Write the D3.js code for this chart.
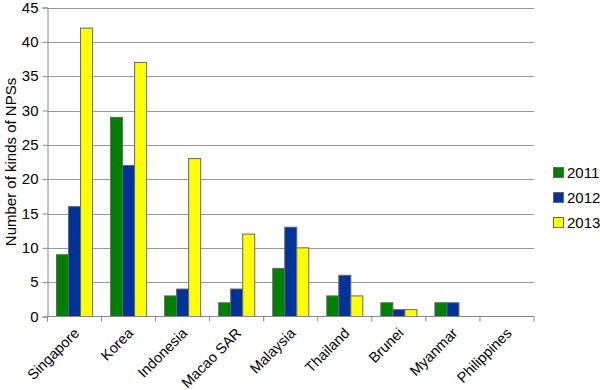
<!DOCTYPE html>
<meta charset="utf-8">
<script src="https://d3js.org/d3.v7.min.js"></script>
<style>
  body { margin: 0; background: #fff; }
  text { font-family: "Liberation Sans", Arial, sans-serif; fill: #000; }
</style>
<svg id="chart" width="600" height="390"></svg>
<script>

// data
var countries = ["Singapore", "Korea", "Indonesia", "Macao SAR", "Malaysia", "Thailand", "Brunei", "Myanmar", "Philippines"];
var years = ["2011", "2012", "2013"];
var v2011 = [9, 29, 3, 2, 7, 3, 2, 2, 0];
var v2012 = [16, 22, 4, 4, 13, 6, 1, 2, 0];
var v2013 = [42, 37, 23, 12, 10, 3, 1, 0, 0];
var yTicks = [0, 5, 10, 15, 20, 25, 30, 35, 40, 45];
var colors = ["#008000", "#003399", "#ffff00"];

var series = [v2011, v2012, v2013];

var svg = d3.select("#chart");
var plotLeft = 47.5, plotRight = 534, plotTop = 7.5, plotBottom = 316.5;

var x = d3.scaleBand().domain(countries).range([plotLeft, plotRight]);
var xInner = d3.scaleBand().domain(years).range([0, x.bandwidth()]).paddingOuter(0.75);
var y = d3.scaleLinear().domain([0, 45]).range([plotBottom, plotTop]);

// gridlines
svg.append("g")
  .selectAll("line")
  .data(yTicks.slice(1))
  .enter().append("line")
    .attr("x1", plotLeft).attr("x2", plotRight)
    .attr("y1", function(d){ return Math.round(y(d)) + 0.5 })
    .attr("y2", function(d){ return Math.round(y(d)) + 0.5 })
    .attr("stroke", "#999").attr("stroke-width", 1);

// bars
var groups = svg.append("g")
  .selectAll("g")
  .data(countries)
  .enter().append("g")
    .attr("transform", function(d){ return "translate(" + x(d) + ",0)" });

groups.selectAll("rect")
  .data(function(d, i){ return years.map(function(yr, j){ return { year: yr, value: series[j][i], j: j } }).filter(function(d){ return d.value > 0 }) })
  .enter().append("rect")
    .attr("x", function(d){ return xInner(d.year) })
    .attr("width", xInner.bandwidth())
    .attr("y", function(d){ return y(d.value) })
    .attr("height", function(d){ return plotBottom - y(d.value) })
    .attr("fill", function(d){ return colors[d.j] })
    .attr("stroke", "#666").attr("stroke-width", 1);

// y axis
var yAxis = svg.append("g")
  .attr("transform", "translate(" + plotLeft + ",0)")
  .call(d3.axisLeft(y).tickValues(yTicks).tickSize(5).tickPadding(4));
yAxis.select(".domain").attr("stroke", "#888");
yAxis.selectAll(".tick line").attr("stroke", "#888");
yAxis.selectAll("text").style("font-size", "15px").attr("font-family", null);

// x axis
var xAxis = svg.append("g")
  .attr("transform", "translate(0," + plotBottom + ")");
xAxis.append("line")
  .attr("x1", plotLeft).attr("x2", plotRight)
  .attr("stroke", "#888");
xAxis.selectAll(".tk")
  .data(countries.concat(["end"]))
  .enter().append("line")
    .attr("x1", function(d, i){ return plotLeft + i * x.bandwidth() })
    .attr("x2", function(d, i){ return plotLeft + i * x.bandwidth() })
    .attr("y1", 0).attr("y2", 5)
    .attr("stroke", "#888");
xAxis.selectAll(".lbl")
  .data(countries)
  .enter().append("text")
    .attr("transform", function(d){ return "translate(" + (x(d) + x.bandwidth() / 2 + 2) + ",14) rotate(-45)" })
    .attr("text-anchor", "end")
    .attr("dy", "0.35em")
    .style("font-size", "14.5px")
    .text(function(d){ return d });

// y label
svg.append("text")
  .attr("transform", "translate(16," + ((plotTop + plotBottom) / 2) + ") rotate(-90)")
  .attr("text-anchor", "middle")
  .style("font-size", "15px")
  .text("Number of kinds of NPSs");

// legend
var legend = svg.append("g")
  .selectAll("g")
  .data(years)
  .enter().append("g")
    .attr("transform", function(d, i){ return "translate(553," + (172 + i * 25) + ")" });
legend.append("rect")
  .attr("x", 0.5).attr("y", -4.5).attr("width", 10).attr("height", 10)
  .attr("fill", function(d, i){ return colors[i] })
  .attr("stroke", "#666");
legend.append("text")
  .attr("x", 14).attr("dy", "0.38em")
  .style("font-size", "15px")
  .text(function(d){ return d });

</script>
